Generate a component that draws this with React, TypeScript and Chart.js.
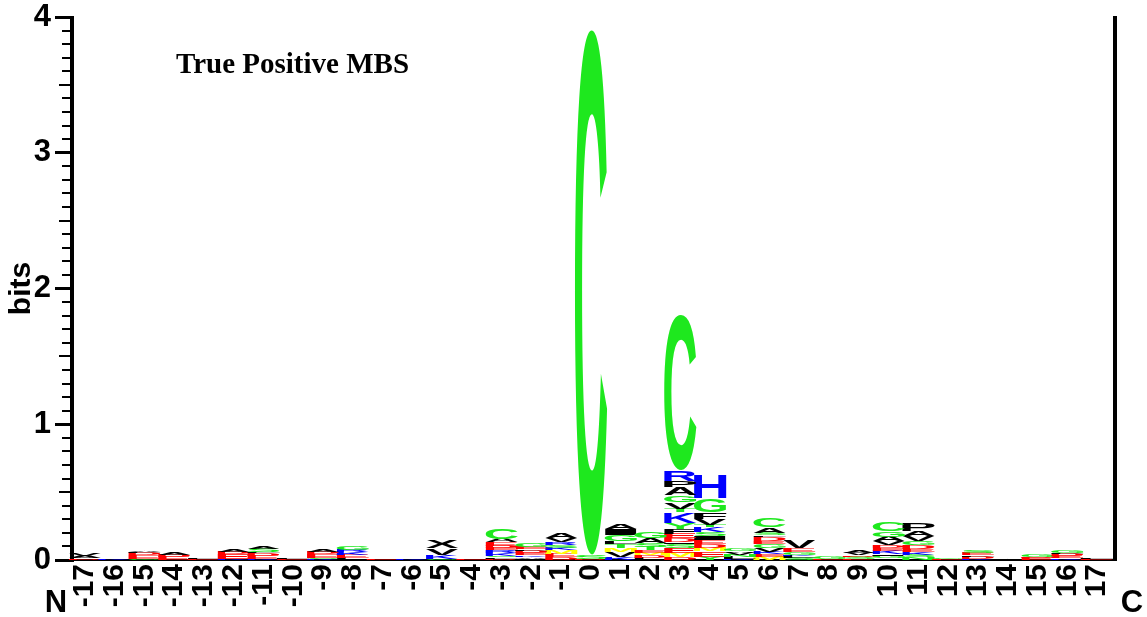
import React, { useEffect, useRef } from 'react';
import { Chart, registerables } from 'chart.js';
Chart.register(...registerables);

// Sequence positions (N -> C)
const positionLabels = [
  '-17','-16','-15','-14','-13','-12','-11','-10','-9','-8','-7','-6','-5','-4','-3','-2','-1',
  '0','1','2','3','4','5','6','7','8','9','10','11','12','13','14','15','16','17',
];

// Letters of each stack, bottom -> top
const stackLetters = [
  'DAV', 'K', 'GEDLA', 'EDA', 'EL', 'KEDA', 'KEDLSA', 'EL', 'KSEDA', 'LEKRG', 'E', 'K',
  'GKVX', 'E', 'DLSKREDEAC', 'LAKEDLEG', 'DEMKSRVA',
  'DSC', 'KVMTLGIA', 'LDMETSAG', 'DMESIDEFYKTVGAPRC', 'YEMDEISKTVFGH', 'KLNVAG',
  'MEKVGEDFSAC', 'SLKGEV', 'EG', 'ESDVA', 'LGIKEDVAGC', 'NSKEDGVAP', 'EG', 'KDLES', 'A',
  'EDG', 'KEDLG', 'EL',
];

// Letter heights in bits, bottom -> top
const stackHeights = [
  [0.012, 0.018, 0.02],
  [0.01],
  [0.006, 0.03, 0.015, 0.008, 0.012],
  [0.025, 0.015, 0.015],
  [0.005, 0.006],
  [0.006, 0.035, 0.015, 0.015],
  [0.008, 0.025, 0.015, 0.01, 0.025, 0.015],
  [0.006, 0.004],
  [0.008, 0.008, 0.03, 0.015, 0.015],
  [0.015, 0.025, 0.018, 0.015, 0.03],
  [0.008],
  [0.01],
  [0.01, 0.025, 0.05, 0.06],
  [0.008],
  [0.01, 0.012, 0.01, 0.018, 0.02, 0.02, 0.015, 0.025, 0.025, 0.08],
  [0.01, 0.012, 0.012, 0.02, 0.015, 0.01, 0.02, 0.025],
  [0.02, 0.025, 0.025, 0.02, 0.02, 0.02, 0.03, 0.035],
  [0.01, 0.03, 3.87],
  [0.02, 0.04, 0.03, 0.03, 0.02, 0.045, 0.045, 0.04],
  [0.015, 0.02, 0.02, 0.015, 0.025, 0.03, 0.04, 0.045],
  [0.02, 0.035, 0.035, 0.03, 0.01, 0.03, 0.035, 0.035, 0.045, 0.075, 0.025, 0.05, 0.05, 0.06, 0.05, 0.075, 1.15],
  [0.025, 0.04, 0.025, 0.03, 0.025, 0.03, 0.03, 0.035, 0.02, 0.045, 0.05, 0.1, 0.17],
  [0.01, 0.015, 0.015, 0.015, 0.012, 0.02],
  [0.025, 0.02, 0.015, 0.03, 0.03, 0.02, 0.03, 0.012, 0.02, 0.04, 0.07],
  [0.015, 0.015, 0.01, 0.02, 0.025, 0.055],
  [0.005, 0.018],
  [0.01, 0.015, 0.01, 0.015, 0.015],
  [0.012, 0.02, 0.01, 0.025, 0.02, 0.02, 0.03, 0.035, 0.04, 0.07],
  [0.02, 0.02, 0.02, 0.02, 0.03, 0.03, 0.035, 0.04, 0.06],
  [0.004, 0.012],
  [0.01, 0.015, 0.01, 0.015, 0.02],
  [0.01],
  [0.015, 0.01, 0.015],
  [0.012, 0.015, 0.015, 0.008, 0.02],
  [0.004, 0.004],
];

const yMajorTicks = [0, 1, 2, 3, 4];
const titleText = 'True Positive MBS';
const yAxisTitle = 'bits';
const nTermLabel = 'N';
const cTermLabel = 'C';

const GREEN = '#1ee81e';
const BLUE = '#0000ff';
const RED = '#ff0000';
const BLACK = '#000000';
const YELLOW = '#ffff00';

const SANS = '"Liberation Sans", Arial, Helvetica, sans-serif';

function letterColor(ch: string): string {
  if ('CGSTYNQ'.includes(ch)) return GREEN;
  if ('KRH'.includes(ch)) return BLUE;
  if ('DE'.includes(ch)) return RED;
  if ('M'.includes(ch)) return YELLOW;
  return BLACK;
}

const LETTER_FONT = 'bold 200px ' + SANS;

function drawGlyph(ctx: CanvasRenderingContext2D, ch: string, x0: number, y0: number, w: number, h: number, color: string) {
  ctx.save();
  ctx.font = LETTER_FONT;
  ctx.textAlign = 'left';
  ctx.textBaseline = 'alphabetic';
  const m = ctx.measureText(ch);
  const gw = m.actualBoundingBoxLeft + m.actualBoundingBoxRight;
  const gh = m.actualBoundingBoxAscent + m.actualBoundingBoxDescent;
  if (gw <= 0 || gh <= 0) { ctx.restore(); return; }
  ctx.translate(x0, y0);
  ctx.scale(w / gw, h / gh);
  ctx.fillStyle = color;
  ctx.fillText(ch, m.actualBoundingBoxLeft, m.actualBoundingBoxAscent);
  ctx.restore();
}

const logoPlugin = {
  id: 'logoPlugin',
  beforeDatasetsDraw(chart: any) {
    const ctx: CanvasRenderingContext2D = chart.ctx;
    const area = chart.chartArea;
    const ys = chart.scales.y;
    const topY = ys.getPixelForValue(4);
    ctx.save();
    ctx.fillStyle = '#000';
    // left axis line
    ctx.fillRect(area.left, topY - 1, 4, area.bottom - topY + 3);
    // right axis line
    ctx.fillRect(area.right + 1, topY - 1, 4, area.bottom - topY + 2);
    // baseline
    ctx.fillRect(area.left, area.bottom - 1, area.right - area.left + 2, 2);
    // y ticks (major, half and minor)
    for (let i = 0; i <= 40; i++) {
      const v = i / 10;
      const py = ys.getPixelForValue(v);
      let len = 8, lw = 2;
      if (i % 10 === 0) { len = 15; lw = 3; }
      else if (i % 5 === 0) { len = 11; lw = 2; }
      ctx.fillRect(area.left - len, Math.round(py - lw / 2), len, lw);
    }
    ctx.restore();
  },
  afterDatasetsDraw(chart: any) {
    const ctx: CanvasRenderingContext2D = chart.ctx;
    chart.data.datasets.forEach((ds: any, di: number) => {
      const meta = chart.getDatasetMeta(di);
      meta.data.forEach((el: any, pi: number) => {
        const letters = stackLetters[pi];
        const ch = letters ? letters[di] : undefined;
        if (!ch) return;
        const p = el.getProps(['x', 'y', 'base', 'width'], true);
        const top = Math.min(p.y, p.base);
        const h = Math.abs(p.base - p.y);
        if (h < 0.3) return;
        const w = p.width * 1.08;
        drawGlyph(ctx, ch, p.x - w / 2, top, w, h, letterColor(ch));
      });
    });
  },
  afterDraw(chart: any) {
    const ctx: CanvasRenderingContext2D = chart.ctx;
    const area = chart.chartArea;
    ctx.save();
    ctx.fillStyle = '#000';
    ctx.textBaseline = 'alphabetic';
    ctx.textAlign = 'left';
    ctx.font = 'bold 29px "Liberation Serif", "Times New Roman", serif';
    ctx.fillText(titleText, 176, 73);
    ctx.font = 'bold 31px ' + SANS;
    ctx.textAlign = 'center';
    ctx.fillText(nTermLabel, area.left - 14, 612);
    ctx.fillText(cTermLabel, area.right + 20, 612);
    ctx.restore();
  },
};

export default function App() {
  const canvasRef = useRef<HTMLCanvasElement | null>(null);
  useEffect(() => {
    const canvas = canvasRef.current;
    if (!canvas) return;
    const maxLayers = Math.max(...stackLetters.map((s) => s.length));
    const datasets = [];
    for (let layer = 0; layer < maxLayers; layer++) {
      datasets.push({
        label: 'layer ' + layer,
        data: stackHeights.map((hs) => (hs[layer] !== undefined ? hs[layer] : 0)),
        backgroundColor: 'rgba(0,0,0,0)',
        borderWidth: 0,
        barPercentage: 1,
        categoryPercentage: 1,
        stack: 'logo',
      });
    }
    const chart = new Chart(canvas, {
      type: 'bar',
      data: { labels: positionLabels, datasets },
      options: {
        animation: false,
        responsive: false,
        devicePixelRatio: 1,
        layout: { padding: { top: 17, right: 35, left: 0, bottom: 0 } },
        plugins: { legend: { display: false }, tooltip: { enabled: false }, title: { display: false } },
        scales: {
          x: {
            stacked: true,
            grid: { display: false, drawTicks: false },
            border: { display: false },
            ticks: {
              autoSkip: false,
              minRotation: 90,
              maxRotation: 90,
              padding: 4,
              color: '#000',
              font: { family: SANS, size: 30, weight: 'bold' },
            },
            afterFit: (s: any) => { s.height = 57; s.paddingLeft = 0; s.paddingRight = 0; },
          },
          y: {
            stacked: true,
            min: 0,
            max: 4,
            afterBuildTicks: (s: any) => { s.ticks = yMajorTicks.map((v) => ({ value: v })); },
            grid: { display: false, drawTicks: false },
            border: { display: false },
            ticks: {
              padding: 19,
              color: '#000',
              font: { family: SANS, size: 31, weight: 'bold' },
            },
            title: {
              display: true,
              text: yAxisTitle,
              color: '#000',
              padding: { top: 4, bottom: 0 },
              font: { family: SANS, size: 30, weight: 'bold' },
            },
            afterFit: (s: any) => { s.width = 70; s.paddingTop = 0; s.paddingBottom = 0; },
          },
        },
      },
      plugins: [logoPlugin],
    } as any);
    return () => chart.destroy();
  }, []);
  return (
    <div style={{ position: 'absolute', left: 0, top: 0, width: 1147, height: 617, background: '#fff' }}>
      <canvas ref={canvasRef} width={1147} height={617} />
    </div>
  );
}
